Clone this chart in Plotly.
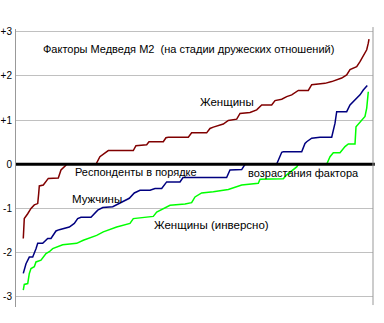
import plotly.graph_objects as go

# Respondent rank (0..100) and factor values
women_x = [2.04, 2.32, 3.28, 4.20, 5.13, 6.08, 6.36, 6.53, 7.65, 9.05, 11.85, 12.32, 12.6, 13.9, 14.15,
           22.4, 23.5, 25.85, 32.86, 33.6, 36.6, 37.25, 41.26, 42.0, 42.66, 48.26, 49.2, 53.4, 54.34,
           55.27, 58.07, 59.47, 61.82, 62.75, 65.55, 67.42, 68.82, 71.62, 72.55, 74.43, 75.83, 77.23,
           79.08, 81.88, 82.83, 86.55, 88.43, 91.23, 92.63, 93.56, 95.43, 96.36, 97.28, 98.24, 98.68, 98.88]
women_y = [-1.68, -1.23, -1.12, -1.00, -0.92, -0.89, -0.66, -0.49, -0.47, -0.32, -0.31, -0.17, -0.13, -0.03, 0,
           0, 0.17, 0.31, 0.31, 0.42, 0.44, 0.51, 0.51, 0.60, 0.61, 0.61, 0.71, 0.71, 0.81,
           0.84, 0.91, 0.99, 1.02, 1.15, 1.17, 1.23, 1.34, 1.34, 1.44, 1.47, 1.53, 1.57,
           1.67, 1.67, 1.80, 1.83, 1.87, 1.95, 2.02, 2.14, 2.21, 2.32, 2.44, 2.59, 2.74, 2.83]

men_x = [2.04, 2.80, 3.73, 4.68, 5.60, 6.08, 7.48, 8.88, 9.80, 11.2, 12.13, 14.0, 14.93, 16.33, 17.28,
         18.2, 21.0, 22.9, 24.3, 27.1, 28.94, 31.74, 33.14, 34.73, 37.54, 38.94, 40.81, 41.74, 42.21,
         45.94, 46.78, 59.0, 59.94, 63.22, 64.15, 73.0, 74.43, 74.87, 80.03, 80.95, 81.43, 82.83,
         85.15, 88.43, 89.36, 89.83, 92.63, 93.56, 94.96, 96.36, 97.28, 98.4]
men_y = [-2.47, -2.25, -2.10, -2.10, -1.91, -1.79, -1.79, -1.68, -1.68, -1.51, -1.48, -1.45, -1.42, -1.34, -1.23,
         -1.20, -1.20, -1.04, -0.98, -0.96, -0.89, -0.77, -0.65, -0.59, -0.59, -0.55, -0.55, -0.43, -0.40,
         -0.40, -0.30, -0.30, -0.13, -0.12, 0, 0, 0.27, 0.28, 0.28, 0.47, 0.51, 0.59,
         0.61, 0.61, 0.93, 1.19, 1.19, 1.34, 1.46, 1.57, 1.68, 1.78]

inv_x = [2.04, 2.32, 3.28, 3.73, 4.20, 5.13, 5.60, 7.0, 8.40, 9.33, 10.28, 11.2, 13.08, 17.0, 18.85,
         22.6, 24.45, 28.2, 31.93, 32.86, 38.46, 39.41, 41.26, 43.14, 47.34, 49.2, 50.14, 52.0, 55.27,
         59.47, 63.22, 67.87, 68.35, 74.87, 75.83, 78.63, 79.08, 87.03, 87.96, 88.88, 90.76, 92.16,
         93.08, 94.96, 95.24, 96.84, 97.76, 98.24, 98.68]
inv_y = [-2.85, -2.72, -2.70, -2.47, -2.36, -2.32, -2.21, -2.17, -2.02, -1.98, -1.91, -1.88, -1.82, -1.79, -1.72,
         -1.61, -1.53, -1.42, -1.34, -1.23, -1.18, -1.08, -1.00, -0.93, -0.90, -0.87, -0.74, -0.65, -0.62,
         -0.57, -0.47, -0.43, -0.34, -0.33, -0.24, -0.06, 0, 0, 0.17, 0.26, 0.26, 0.40,
         0.46, 0.46, 0.85, 1.00, 1.08, 1.27, 1.64]

tick_vals = [3, 2, 1, 0, -1, -2, -3]
tick_text = ["+3", "+2", "+1", "0", "-1", "-2", "-3"]

title_text = "Факторы Медведя М2  (на стадии дружеских отношений)"
label_women = "Женщины"
label_men = "Мужчины"
label_inv = "Женщины (инверсно)"
label_x1 = "Респонденты в порядке"
label_x2 = "возрастания фактора"

FONT = "Liberation Sans, Arial, sans-serif"

fig = go.Figure()
fig.add_trace(go.Scatter(x=inv_x, y=inv_y, mode="lines", line=dict(color="#00ff00", width=1.5)))
fig.add_trace(go.Scatter(x=men_x, y=men_y, mode="lines", line=dict(color="#000080", width=1.5)))
fig.add_trace(go.Scatter(x=women_x, y=women_y, mode="lines", line=dict(color="#800000", width=1.5)))

ann = [
    (title_text, 7.2, 2.60, 11),
    (label_women, 51.2, 1.40, 11.5),
    (label_x1, 16.2, -0.18, 11),
    (label_x2, 64.7, -0.19, 11),
    (label_men, 15.4, -0.79, 11.5),
    (label_inv, 38.3, -1.38, 11.5),
]
for t, x, y, s in ann:
    fig.add_annotation(x=x, y=y, text=t, showarrow=False, xanchor="left", yanchor="middle",
                       font=dict(family=FONT, size=s, color="black"), borderpad=0)

# zero line above traces
fig.add_shape(type="line", xref="paper", yref="y", x0=0, x1=1.005, y0=0, y1=0,
              line=dict(color="black", width=3), layer="above")
# right border line
fig.add_shape(type="line", xref="paper", yref="paper", x0=1, x1=1, y0=0.007, y1=1.007,
              line=dict(color="#999999", width=1), layer="above")

fig.update_layout(
    width=384, height=323,
    margin=dict(l=16, r=11, t=29, b=16, autoexpand=False),
    paper_bgcolor="white", plot_bgcolor="white",
    showlegend=False,
    font=dict(family=FONT, size=11, color="black"),
    xaxis=dict(range=[0, 100], showgrid=False, zeroline=False, showticklabels=False,
               showline=False, ticks="", automargin=False),
    yaxis=dict(range=[-3.23, 3.06], tickvals=tick_vals, ticktext=tick_text,
               showgrid=True, gridcolor="#c0c0c0", gridwidth=1, zeroline=False,
               showline=True, linecolor="#999999", linewidth=1, ticks="", automargin=False,
               ticklabelstandoff=1, tickfont=dict(family=FONT, size=10, color="black")),
)

fig.write_html("out.html")
